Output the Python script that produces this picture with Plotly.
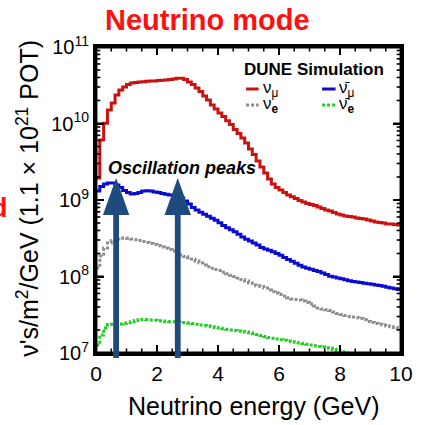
import numpy as np
import plotly.graph_objects as go

# ---- data (0.125 GeV bins from 0 to 10 GeV) ----
bin_width = 0.125
numu = [1.94e9, 6.1e9, 1.01e10, 1.5e10, 1.85e10, 2.36e10, 2.74e10, 3.0e10, 3.24e10, 3.38e10,
        3.43e10, 3.49e10, 3.52e10, 3.56e10, 3.59e10, 3.6e10, 3.65e10, 3.67e10, 3.7e10, 3.76e10,
        3.82e10, 3.9e10, 3.9e10, 3.76e10, 3.49e10, 3.24e10, 2.91e10, 2.62e10, 2.29e10, 2.03e10,
        1.75e10, 1.55e10, 1.37e10, 1.23e10, 1.09e10, 9.7e9, 8.34e9, 7.4e9, 6.46e9, 5.56e9,
        4.65e9, 3.94e9, 3.24e9, 2.7e9, 2.25e9, 1.88e9, 1.62e9, 1.46e9, 1.35e9, 1.25e9,
        1.16e9, 1.1e9, 1.05e9, 9.86e8, 9.4e8, 9.0e8, 8.73e8, 8.47e8, 8.1e8, 7.74e8,
        7.4e8, 7.18e8, 6.87e8, 6.56e8, 6.37e8, 6.18e8, 6.08e8, 6.0e8, 5.82e8, 5.73e8,
        5.65e8, 5.48e8, 5.32e8, 5.16e8, 5.08e8, 5.0e8, 4.85e8, 4.85e8, 4.79e8, 4.71e8]
numubar = [1.31e9, 1.5e9, 1.62e9, 1.67e9, 1.67e9, 1.57e9, 1.46e9, 1.33e9, 1.25e9, 1.2e9,
           1.22e9, 1.25e9, 1.31e9, 1.32e9, 1.31e9, 1.27e9, 1.25e9, 1.22e9, 1.19e9, 1.16e9,
           1.16e9, 1.13e9, 1.06e9, 9.7e8, 8.85e8, 7.98e8, 7.4e8, 6.9e8, 6.5e8, 6.12e8,
           5.78e8, 5.42e8, 5.05e8, 4.63e8, 4.33e8, 4.08e8, 3.85e8, 3.56e8, 3.28e8, 3.06e8,
           2.91e8, 2.74e8, 2.58e8, 2.4e8, 2.29e8, 2.2e8, 2.11e8, 2.0e8, 1.89e8, 1.77e8,
           1.67e8, 1.58e8, 1.49e8, 1.4e8, 1.33e8, 1.28e8, 1.24e8, 1.2e8, 1.16e8, 1.11e8,
           1.06e8, 1.01e8, 9.84e7, 9.55e7, 9.35e7, 9.08e7, 8.81e7, 8.59e7, 8.47e7, 8.32e7,
           8.17e7, 8.02e7, 7.9e7, 7.73e7, 7.6e7, 7.43e7, 7.26e7, 7.06e7, 6.9e7, 6.76e7]
nue = [1.29e8, 1.85e8, 2.36e8, 2.74e8, 2.95e8, 3.09e8, 3.16e8, 3.18e8, 3.16e8, 3.09e8,
       3.03e8, 2.95e8, 2.86e8, 2.78e8, 2.7e8, 2.62e8, 2.52e8, 2.43e8, 2.34e8, 2.25e8,
       2.15e8, 2.03e8, 1.91e8, 1.82e8, 1.76e8, 1.69e8, 1.59e8, 1.5e8, 1.41e8, 1.34e8,
       1.28e8, 1.23e8, 1.2e8, 1.14e8, 1.09e8, 1.04e8, 1.0e8, 9.55e7, 9.12e7, 8.73e7,
       8.22e7, 7.73e7, 7.55e7, 7.4e7, 7.06e7, 6.65e7, 6.32e7, 6.08e7, 5.81e7, 5.56e7,
       5.27e7, 5.07e7, 5.0e7, 4.92e7, 4.78e7, 4.57e7, 4.37e7, 4.11e7, 3.87e7, 3.76e7,
       3.68e7, 3.59e7, 3.44e7, 3.28e7, 3.18e7, 3.09e7, 3.01e7, 2.95e7, 2.89e7, 2.82e7,
       2.72e7, 2.59e7, 2.5e7, 2.43e7, 2.37e7, 2.32e7, 2.26e7, 2.2e7, 2.15e7, 2.1e7]
nuebar = [1.27e7, 1.72e7, 2.12e7, 2.36e7, 2.37e7, 2.37e7, 2.39e7, 2.44e7,
          2.49e7, 2.56e7, 2.65e7, 2.72e7, 2.75e7, 2.74e7, 2.70e7, 2.68e7,
          2.64e7, 2.62e7, 2.58e7, 2.56e7, 2.56e7, 2.54e7, 2.50e7, 2.49e7,
          2.47e7, 2.43e7, 2.38e7, 2.32e7, 2.29e7, 2.25e7, 2.20e7, 2.16e7,
          2.12e7, 2.07e7, 2.04e7, 2.00e7, 1.97e7, 1.94e7, 1.91e7, 1.88e7,
          1.84e7, 1.80e7, 1.74e7, 1.69e7, 1.64e7, 1.59e7, 1.56e7, 1.52e7,
          1.49e7, 1.47e7, 1.43e7, 1.40e7, 1.38e7, 1.35e7, 1.32e7, 1.30e7,
          1.27e7, 1.24e7, 1.22e7, 1.20e7, 1.17e7, 1.15e7, 1.11e7, 1.08e7,
          1.04e7, 1.00e7, 9.7e6, 9.4e6, 9.27e6, 9.1e6, 9.1e6, 9.1e6,
          9.1e6, 9.1e6, 9.1e6, 9.1e6, 9.1e6, 9.1e6, 9.1e6, 9.1e6]
peak_energies = [0.66, 2.68]
x_ticks = [0, 2, 4, 6, 8, 10]
x_minor_ticks = [0.5, 1, 1.5, 2.5, 3, 3.5, 4.5, 5, 5.5, 6.5, 7, 7.5, 8.5, 9, 9.5]
y_exponents = [7, 8, 9, 10, 11]
y_ticks = [10.0 ** e for e in y_exponents]
y_ticktext = [f"10<sup>{e}</sup>" for e in y_exponents]
y_minor_ticks = [k * 10.0 ** d for d in range(7, 11) for k in range(2, 10)]

FONT = "Liberation Sans, Arial, Helvetica, sans-serif"
edges = np.arange(len(numu) + 1) * bin_width

def step(vals):
    return list(edges), list(vals) + [vals[-1]]

fig = go.Figure()
series = [
    (numu, "#cc1111", "solid"),
    (numubar, "#0a0ad0", "solid"),
    (nue, "#8c8c8c", "3px,2px"),
    (nuebar, "#22cc22", "3px,2px"),
]
for vals, col, dash in series:
    xs, ys = step(vals)
    fig.add_trace(go.Scatter(x=xs, y=ys, mode="lines", line_shape="hv",
                             line=dict(color=col, width=3, dash=dash),
                             hoverinfo="skip"))

# geometry helpers (pixel -> paper)
W, H = 423, 425
L, R, T, B = 96, 413, 47, 353
PW, PH = R - L, B - T
def px(x):
    return (x - L) / PW
def py(y):
    return (B - y) / PH
def ylog_paper(v):
    return (np.log10(v) - 7) / 4

shapes = []
# frame drawn as filled bars
fw = 1.5
bar = dict(type="rect", xref="paper", yref="paper", fillcolor="black",
           line=dict(width=0), layer="above")
shapes += [
    dict(bar, x0=-fw / PW, x1=fw / PW, y0=-fw / PH, y1=1 + fw / PH),
    dict(bar, x0=1 - fw / PW, x1=1 + fw / PW, y0=-fw / PH, y1=1 + fw / PH),
    dict(bar, x0=-fw / PW, x1=1 + fw / PW, y0=-fw / PH, y1=fw / PH),
    dict(bar, x0=-fw / PW, x1=1 + fw / PW, y0=1 - fw / PH, y1=1 + fw / PH),
]
# tick marks (inside, on all four sides)
for vals, ln, hw_px in [(x_ticks, 8, 1.0), (x_minor_ticks, 4.5, 0.8)]:
    for t in vals:
        xp = t / 10
        for y0, y1 in [(0, ln / PH), (1 - ln / PH, 1)]:
            shapes.append(dict(bar, x0=xp - hw_px / PW, x1=xp + hw_px / PW, y0=y0, y1=y1))
for vals, ln, hw_px in [(y_ticks, 8, 1.0), (y_minor_ticks, 4.5, 0.8)]:
    for t in vals:
        yp = ylog_paper(t)
        for x0, x1 in [(0, ln / PW), (1 - ln / PW, 1)]:
            shapes.append(dict(bar, x0=x0, x1=x1, y0=yp - hw_px / PH, y1=yp + hw_px / PH))

arrow_col = "#1f4a7e"
hw = 13.7 * 10 / PW   # half width of arrow head (GeV)
sw = 3.0 * 10 / PW    # half width of shaft (GeV)
for e in peak_energies:
    shapes.append(dict(type="rect", xref="x", yref="paper",
                       x0=e - sw, x1=e + sw, y0=py(358), y1=py(214),
                       fillcolor=arrow_col, line=dict(width=0), layer="above"))
    shapes.append(dict(type="path", xref="x", yref="paper",
                       path=f"M {e-hw},{py(215)} L {e+hw},{py(215)} L {e},{py(178)} Z",
                       fillcolor=arrow_col, line=dict(width=0), layer="above"))

# legend samples
leg = [
    (252, 265, 89, "#cc1111", "solid"),
    (331, 345, 89, "#0a0ad0", "solid"),
    (252, 265, 105, "#8c8c8c", "3px,2px"),
    (331, 345, 105, "#22cc22", "3px,2px"),
]
for x0, x1, y, col, dash in leg:
    shapes.append(dict(type="line", xref="paper", yref="paper",
                       x0=px(x0), x1=px(x1), y0=py(y), y1=py(y),
                       line=dict(color=col, width=3, dash=dash)))

annotations = [
    dict(text="<b>Neutrino mode</b>", x=px(211.5), y=py(20), xref="paper", yref="paper",
         showarrow=False, xanchor="center", yanchor="middle",
         font=dict(size=29, color="#ff1010", family=FONT)),
    dict(text="<b>d</b>", x=px(7), y=py(208), xref="paper", yref="paper",
         showarrow=False, xanchor="right", yanchor="middle",
         font=dict(size=27, color="#ff1010", family=FONT)),
    dict(text="<b>DUNE Simulation</b>", x=px(323), y=py(70), xref="paper", yref="paper",
         showarrow=False, xanchor="center", yanchor="middle",
         font=dict(size=17, color="black", family=FONT)),
    dict(text="ν<sub>μ</sub>", x=px(267), y=py(89), xref="paper", yref="paper",
         showarrow=False, xanchor="left", yanchor="middle",
         font=dict(size=17, color="black", family=FONT)),
    dict(text="ν̄<sub>μ</sub>", x=px(347), y=py(89), xref="paper", yref="paper",
         showarrow=False, xanchor="left", yanchor="middle",
         font=dict(size=17, color="black", family=FONT)),
    dict(text="ν<sub><b>e</b></sub>", x=px(267), y=py(105), xref="paper", yref="paper",
         showarrow=False, xanchor="left", yanchor="middle",
         font=dict(size=17, color="black", family=FONT)),
    dict(text="ν̄<sub><b>e</b></sub>", x=px(347), y=py(105), xref="paper", yref="paper",
         showarrow=False, xanchor="left", yanchor="middle",
         font=dict(size=17, color="black", family=FONT)),
    dict(text="<b><i>Oscillation peaks</i></b>", x=px(185), y=py(168), xref="paper", yref="paper",
         showarrow=False, xanchor="center", yanchor="middle",
         font=dict(size=18, color="black", family=FONT)),
    dict(text="Neutrino energy (GeV)", x=px(260), y=py(406), xref="paper", yref="paper",
         showarrow=False, xanchor="center", yanchor="middle",
         font=dict(size=25, color="black", family=FONT)),
    dict(text="ν's/m<sup>2</sup>/GeV (1.1 × 10<sup>21</sup> POT)", x=px(25), y=py(198),
         xref="paper", yref="paper", textangle=-90,
         showarrow=False, xanchor="center", yanchor="middle",
         font=dict(size=25, color="black", family=FONT)),
]

fig.update_layout(
    width=W, height=H, autosize=False,
    margin=dict(l=L, r=W - R, t=T, b=H - B, pad=0),
    paper_bgcolor="white", plot_bgcolor="white",
    showlegend=False,
    font=dict(family=FONT, color="black"),
    shapes=shapes, annotations=annotations,
    xaxis=dict(range=[0, 10], tickvals=x_ticks, ticks="inside", ticklen=8, tickwidth=2,
               tickcolor="black", showline=True, linewidth=3, linecolor="black",
               mirror="allticks", showgrid=False, zeroline=False,
               tickfont=dict(size=21)),
    yaxis=dict(type="log", range=[7, 11], tickvals=y_ticks, ticktext=y_ticktext,
               ticks="inside", ticklen=8, tickwidth=2, tickcolor="black",
               showline=True, linewidth=3, linecolor="black", mirror="allticks",
               showgrid=False, zeroline=False, tickfont=dict(size=20)),
)

fig.write_html("out.html", config={"responsive": False})
